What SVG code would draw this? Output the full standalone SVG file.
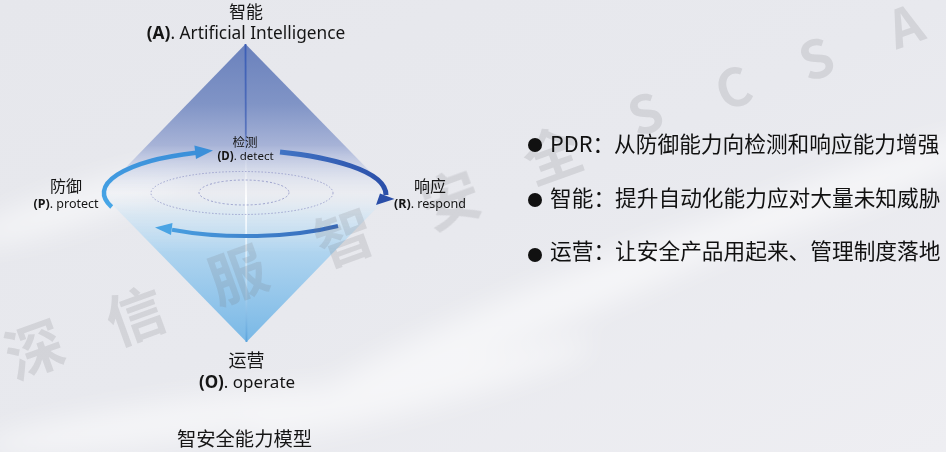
<svg xmlns="http://www.w3.org/2000/svg" width="946" height="452" viewBox="0 0 946 452">
<defs>
<style>
.cjk{font-family:"Noto Sans CJK SC","Noto Sans",sans-serif;fill:#151515}
.lat{font-family:"Noto Sans","Noto Sans CJK SC",sans-serif;fill:#151515}
.b{font-weight:bold}
.wm{font-family:"Noto Sans CJK SC","Noto Sans",sans-serif;font-weight:bold;fill:#76767c;fill-opacity:0.18}
.bul{font-family:"Noto Sans CJK SC","Noto Sans",sans-serif;font-size:21.7px;fill:#111}
</style>
<linearGradient id="bg" x1="0" y1="0" x2="1" y2="1">
<stop offset="0" stop-color="#e6e7ec"/>
<stop offset="0.5" stop-color="#e8e9ee"/>
<stop offset="1" stop-color="#eeeef2"/>
</linearGradient>
<filter id="blur" x="-50%" y="-50%" width="200%" height="200%"><feGaussianBlur stdDeviation="14"/></filter>
<linearGradient id="dia" gradientUnits="userSpaceOnUse" x1="0" y1="44" x2="0" y2="342">
<stop offset="0" stop-color="#6a81bc"/>
<stop offset="0.2" stop-color="#8094c6"/>
<stop offset="0.34" stop-color="#a7b3d7"/>
<stop offset="0.44" stop-color="#d6dcec" stop-opacity="0.7"/>
<stop offset="0.5" stop-color="#eef1f6" stop-opacity="0.4"/>
<stop offset="0.57" stop-color="#d5e6f3" stop-opacity="0.8"/>
<stop offset="0.7" stop-color="#afd4ef"/>
<stop offset="1" stop-color="#79b8e6"/>
</linearGradient>
<linearGradient id="vline" gradientUnits="userSpaceOnUse" x1="0" y1="44" x2="0" y2="342">
<stop offset="0" stop-color="#3a5db6"/>
<stop offset="0.3" stop-color="#4a68b8" stop-opacity="0.8"/>
<stop offset="0.42" stop-color="#ffffff" stop-opacity="0.2"/>
<stop offset="0.52" stop-color="#ffffff" stop-opacity="1"/>
<stop offset="0.72" stop-color="#e8f3fb" stop-opacity="0.7"/>
<stop offset="1" stop-color="#5aa3dc"/>
</linearGradient>
<linearGradient id="gl" gradientUnits="userSpaceOnUse" x1="0" y1="210" x2="0" y2="150">
<stop offset="0" stop-color="#48a8e8"/>
<stop offset="1" stop-color="#3b8fd9"/>
</linearGradient>
<linearGradient id="gr" gradientUnits="userSpaceOnUse" x1="280" y1="0" x2="390" y2="0">
<stop offset="0" stop-color="#4174c4"/>
<stop offset="1" stop-color="#2a4ea8"/>
</linearGradient>
<linearGradient id="gb" gradientUnits="userSpaceOnUse" x1="340" y1="0" x2="155" y2="0">
<stop offset="0" stop-color="#3566b8"/>
<stop offset="1" stop-color="#4aa4e4"/>
</linearGradient>
</defs>

<rect width="946" height="452" fill="url(#bg)"/>
<g filter="url(#blur)" fill="#ffffff" opacity="0.55">
<ellipse cx="80" cy="205" rx="120" ry="18" transform="rotate(-18 80 205)"/>
<ellipse cx="560" cy="300" rx="260" ry="22" transform="rotate(-22 560 300)"/>
<ellipse cx="820" cy="200" rx="200" ry="20" transform="rotate(-20 820 200)"/>
<ellipse cx="420" cy="390" rx="180" ry="18" transform="rotate(-15 420 390)"/>
<ellipse cx="180" cy="420" rx="200" ry="20" transform="rotate(-8 180 420)"/>
</g>

<g id="diamond">
<polygon points="245.5,44 101,193 246.5,342 391,193" fill="url(#dia)"/>
<line x1="245.5" y1="44" x2="246.5" y2="342" stroke="url(#vline)" stroke-width="1.8"/>
<ellipse cx="242" cy="193" rx="91" ry="21.5" fill="none" stroke="#8e94c6" stroke-width="1" stroke-dasharray="1.5 1.8" opacity="0.8"/>
<ellipse cx="244" cy="192.5" rx="45" ry="12.5" fill="none" stroke="#8e94c6" stroke-width="1" stroke-dasharray="2 2" opacity="0.85"/>
</g>

<g id="connectors">
<path d="M 111.7 207 A 142 43 0 0 1 196 152.7" fill="none" stroke="url(#gl)" stroke-width="4.5"/>
<polygon points="213,150.5 194.4,145.5 196,159" fill="#3b8fd9"/>
<path d="M 280 152 C 328 157 386 170 386 195" fill="none" stroke="url(#gr)" stroke-width="5"/>
<polygon points="376,205 380,193.5 394.5,199" fill="#2a4ea8"/>
<path d="M 338 226 A 142 43 0 0 1 172 229.7" fill="none" stroke="url(#gb)" stroke-width="4"/>
<polygon points="155,227.5 172.5,223 171,235" fill="#4aa4e4"/>
</g>

<g id="watermark">
<text class="wm" font-size="58" text-anchor="middle" transform="translate(42 370) rotate(-20)">深</text>
<text class="wm" font-size="58" text-anchor="middle" transform="translate(143 336) rotate(-20)">信</text>
<text class="wm" font-size="58" text-anchor="middle" transform="translate(245 295) rotate(-20)">服</text>
<text class="wm" font-size="58" text-anchor="middle" transform="translate(352 258) rotate(-20)">智</text>
<text class="wm" font-size="58" text-anchor="middle" transform="translate(458 220) rotate(-20)">安</text>
<text class="wm" font-size="58" text-anchor="middle" transform="translate(560 175) rotate(-20)">全</text>
<text class="wm" font-size="52" text-anchor="middle" transform="translate(652 132) rotate(-20)">S</text>
<text class="wm" font-size="52" text-anchor="middle" transform="translate(740 106) rotate(-20)">C</text>
<text class="wm" font-size="52" text-anchor="middle" transform="translate(823 77) rotate(-20)">S</text>
<text class="wm" font-size="52" text-anchor="middle" transform="translate(912 44) rotate(-20)">A</text>
</g>

<g id="node-A">
<text class="cjk" x="246" y="17.5" font-size="17" text-anchor="middle">智能</text>
<text class="lat" x="246" y="38.5" font-size="17.3" text-anchor="middle"><tspan class="b">(A)</tspan>. Artificial Intelligence</text>
</g>
<g id="node-D">
<text class="cjk" x="245" y="146.5" font-size="12.5" text-anchor="middle">检测</text>
<text class="lat" x="245.5" y="160" font-size="11.5" text-anchor="middle"><tspan class="b">(D)</tspan>. detect</text>
</g>
<g id="node-P">
<text class="cjk" x="66" y="192" font-size="16" text-anchor="middle">防御</text>
<text class="lat" x="66" y="208" font-size="12.5" text-anchor="middle"><tspan class="b">(P)</tspan>. protect</text>
</g>
<g id="node-R">
<text class="cjk" x="430" y="192" font-size="16" text-anchor="middle">响应</text>
<text class="lat" x="430" y="208" font-size="12.5" text-anchor="middle"><tspan class="b">(R)</tspan>. respond</text>
</g>
<g id="node-O">
<text class="cjk" x="246.5" y="366.5" font-size="18" text-anchor="middle">运营</text>
<text class="lat" x="247" y="388" font-size="17" text-anchor="middle"><tspan class="b">(O)</tspan>. operate</text>
</g>
<g id="caption">
<text class="cjk" x="244.5" y="446" font-size="19.3" text-anchor="middle">智安全能力模型</text>
</g>

<g id="bullets">
<circle cx="535" cy="145" r="7" fill="#111"/>
<text class="bul" x="550" y="152">PDR：从防御能力向检测和响应能力增强</text>
<circle cx="535" cy="200" r="7" fill="#111"/>
<text class="bul" x="550" y="205.5">智能：提升自动化能力应对大量未知威胁</text>
<circle cx="535" cy="255" r="7" fill="#111"/>
<text class="bul" x="550" y="259">运营：让安全产品用起来、管理制度落地</text>
</g>
</svg>
